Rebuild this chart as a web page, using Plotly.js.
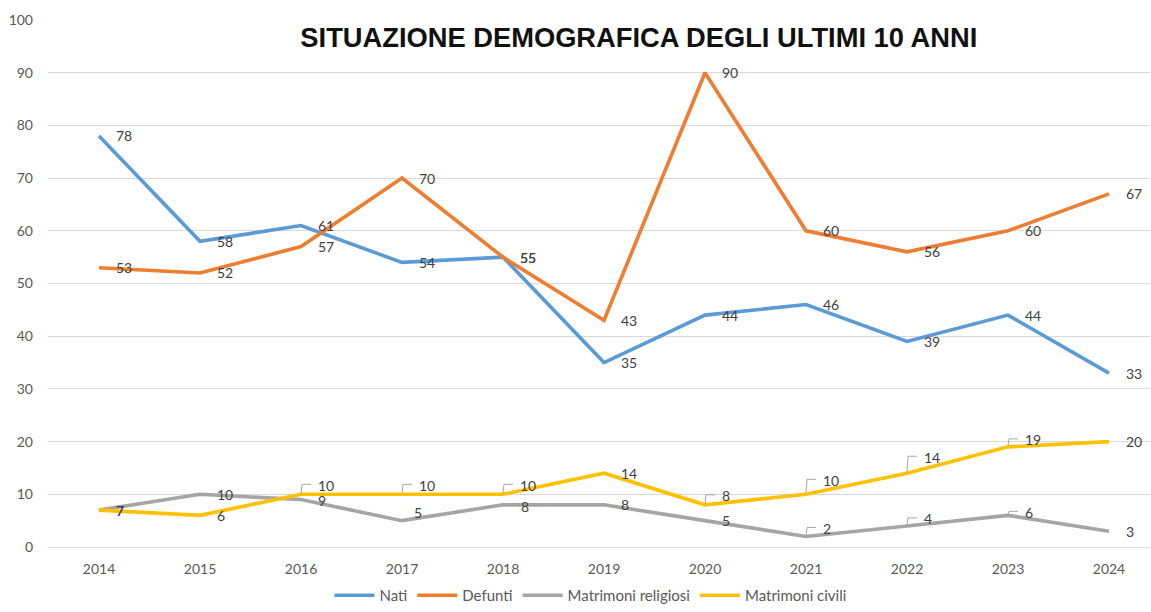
<!DOCTYPE html>
<html>
<head>
<meta charset="utf-8">
<script src="https://cdn.plot.ly/plotly-3.0.1.min.js"></script>
<style>html,body{margin:0;padding:0;background:#fff;}#chart{width:1151px;height:612px;}</style>
</head>
<body>
<div id="chart"></div>
<script>
// ---- data ----
const years = [2014, 2015, 2016, 2017, 2018, 2019, 2020, 2021, 2022, 2023, 2024];
const nati = [78, 58, 61, 54, 55, 35, 44, 46, 39, 44, 33];
const defunti = [53, 52, 57, 70, 55, 43, 90, 60, 56, 60, 67];
const matrimoniReligiosi = [7, 10, 9, 5, 8, 8, 5, 2, 4, 6, 3];
const matrimoniCivili = [7, 6, 10, 10, 10, 14, 8, 10, 14, 19, 20];
const seriesNames = ["Nati", "Defunti", "Matrimoni religiosi", "Matrimoni civili"];
const titleText = "SITUAZIONE DEMOGRAFICA DEGLI ULTIMI 10 ANNI";

// ---- styling (label pixel offsets / leader lines) ----
const colors = ["#5B9BD5", "#ED7D31", "#A5A5A5", "#FFC000"];
const labelDy = [
  [0,0,0,0,0,0,0,0,0,0,0],
  [0,0,0,0,0,0,0,0,0,0,0],
  [0,0,-1,8,-2,0,0,8,7,3,0],
  [0,0,9,9,9,0,9,14,16,7,0]
];
const leader = [
  [0,0,0,0,0,0,0,0,0,0,0],
  [0,0,0,0,0,0,0,0,0,0,0],
  [0,0,0,0,0,0,0,1,1,1,0],
  [0,0,1,1,1,0,1,1,1,1,0]
];
const labelDx = [
  [15,15,15,15,15,15,15,15,15,15,15],
  [15,15,15,15,15,15,15,15,15,15,15],
  [15,15,15,10,16,15,15,15,15,15,15],
  [15,15,15,15,15,15,15,15,15,15,15]
];

const allSeries = [nati, defunti, matrimoniReligiosi, matrimoniCivili];
const FONT = "Lato, 'Open Sans', sans-serif";

const traces = allSeries.map((vals, i) => ({
  x: years, y: vals, name: seriesNames[i], type: "scatter", mode: "lines",
  line: {color: colors[i], width: 3.6}, hoverinfo: "skip"
}));

const annotations = [];
const shapes = [];
allSeries.forEach((vals, i) => {
  vals.forEach((v, j) => {
    annotations.push({
      x: years[j], y: v, xref: "x", yref: "y", text: String(v), showarrow: false,
      xanchor: "left", yanchor: "middle", xshift: labelDx[i][j], yshift: labelDy[i][j],
      font: {family: FONT, size: 14, color: "#404040"}
    });
    if (leader[i][j]) {
      const h = labelDy[i][j] + 1;
      shapes.push({
        type: "path", xref: "x", yref: "y", xsizemode: "pixel", ysizemode: "pixel",
        xanchor: years[j], yanchor: v,
        path: "M 0 1 L 1 " + h + " L 10 " + h,
        line: {color: "#A6A6A6", width: 1}
      });
    }
  });
});

const layout = {
  width: 1151, height: 612,
  margin: {l: 48, r: 1, t: 20, b: 65},
  paper_bgcolor: "#ffffff", plot_bgcolor: "#ffffff",
  title: {
    text: "<b>" + titleText + "</b>", x: 0.555, xanchor: "center", xref: "container",
    y: 0.938, yanchor: "middle", yref: "container",
    font: {family: "'Liberation Sans', Arial, sans-serif", size: 27.3, color: "#111111"}
  },
  xaxis: {
    type: "linear", range: [2013.495, 2024.406], tickvals: years, ticktext: years.map(String),
    showgrid: false, zeroline: false, showline: false, ticks: "",
    tickfont: {family: FONT, size: 14, color: "#595959"}, ticklabelstandoff: 12
  },
  yaxis: {
    range: [0, 100], dtick: 10, tick0: 0, showgrid: true, gridcolor: "#D9D9D9", gridwidth: 1,
    zeroline: true, zerolinecolor: "#D9D9D9", zerolinewidth: 1, showline: false, ticks: "",
    tickfont: {family: FONT, size: 14, color: "#595959"}, ticklabelstandoff: 14
  },
  legend: {
    orientation: "h", x: 0.513, xanchor: "center", xref: "container",
    y: -0.014, yanchor: "bottom", yref: "container", itemwidth: 40,
    font: {family: FONT, size: 15, color: "#595959"}, bgcolor: "rgba(0,0,0,0)"
  },
  showlegend: true,
  annotations: annotations,
  shapes: shapes,
  hovermode: false
};

Plotly.newPlot("chart", traces, layout, {displayModeBar: false, staticPlot: true});
</script>
</body>
</html>
